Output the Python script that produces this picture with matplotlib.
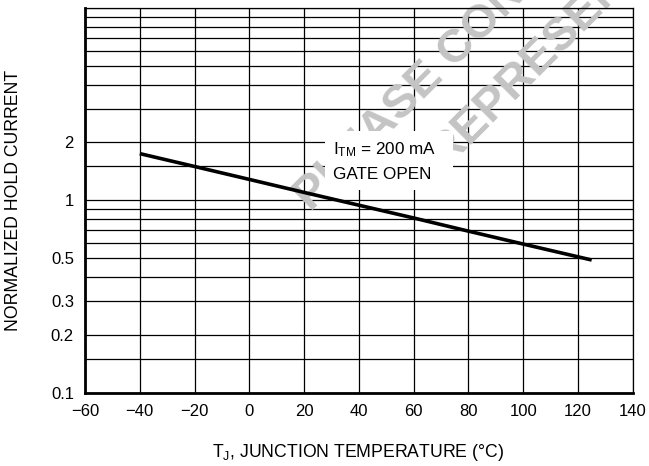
import matplotlib
matplotlib.use("Agg")
import matplotlib.pyplot as plt
from matplotlib.patches import Rectangle
from matplotlib.ticker import FixedLocator, FixedFormatter, NullLocator

plt.rcParams['font.family'] = ['Liberation Sans', 'DejaVu Sans']

# data
temp = [-40, -20, 0, 20, 40, 60, 80, 100, 125]
hold = [1.75, 1.50, 1.285, 1.10, 0.944, 0.81, 0.692, 0.593, 0.49]

x_ticks = [-60, -40, -20, 0, 20, 40, 60, 80, 100, 120, 140]
x_labels = ['\u221260', '\u221240', '\u221220', '0', '20', '40', '60', '80', '100', '120', '140']
y_grid = [0.1, 0.15, 0.2, 0.3, 0.4, 0.5, 0.6, 0.7, 0.8, 0.9, 1,
          1.5, 2, 3, 4, 5, 6, 7, 8, 9, 10]
y_labeled = {0.1: '0.1', 0.2: '0.2', 0.3: '0.3', 0.5: '0.5', 1: '1', 2: '2'}

fig = plt.figure(figsize=(6.49, 4.66), dpi=100)
ax = fig.add_axes([0.131, 0.157, 0.844, 0.826])

ax.set_yscale('log')
ax.set_xlim(-60, 140)
ax.set_ylim(0.1, 10)

ax.xaxis.set_major_locator(FixedLocator(x_ticks))
ax.xaxis.set_major_formatter(FixedFormatter(x_labels))
ax.yaxis.set_major_locator(FixedLocator(y_grid))
ax.yaxis.set_major_formatter(FixedFormatter([y_labeled.get(v, '') for v in y_grid]))
ax.yaxis.set_minor_locator(NullLocator())
ax.tick_params(axis='both', length=0, labelsize=12, pad=8)

ax.grid(True, which='major', color='black', linewidth=0.9)
ax.set_axisbelow(True)
for s in ['top', 'right']:
    ax.spines[s].set_linewidth(0.9)
for s in ['left', 'bottom']:
    ax.spines[s].set_linewidth(2)

# watermark (pixel positions of the first letter's baseline)
def px(x, y):
    return (x / 649, (466 - y) / 466)

ax.text(*px(311, 212), 'PLEASE CONTACT YOUR', transform=fig.transFigure,
        rotation=45, fontsize=34, fontweight='bold', color='#c4c4c4',
        ha='left', va='baseline', rotation_mode='anchor', zorder=1.5, clip_on=False)
ax.text(*px(445, 168), 'REPRESENTATIVE', transform=fig.transFigure,
        rotation=45, fontsize=34, fontweight='bold', color='#c4c4c4',
        ha='left', va='baseline', rotation_mode='anchor', zorder=1.5, clip_on=False)

ax.plot(temp, hold, color='black', linewidth=2.6, solid_capstyle='butt', zorder=5)

# condition box
ax.add_patch(Rectangle((0.438, 0.527), 0.234, 0.153, transform=ax.transAxes,
                       facecolor='white', edgecolor='none', zorder=4))
ax.text(0.4526, 0.631, '$\\mathregular{I_{TM}}$ = 200 mA', transform=ax.transAxes,
        fontsize=12.3, ha='left', va='center', zorder=4.5)
ax.text(0.4526, 0.566, 'GATE OPEN', transform=ax.transAxes,
        fontsize=12.3, ha='left', va='center', zorder=4.5)

ax.set_ylabel('NORMALIZED HOLD CURRENT', fontsize=12.7)
ax.yaxis.set_label_coords(-0.115, 0.5)
ax.set_xlabel('T$\\mathregular{_J}$, JUNCTION TEMPERATURE (\u00b0C)', fontsize=12.7)
ax.xaxis.set_label_coords(0.499, -0.128)

fig.savefig('out.png', dpi=100)
